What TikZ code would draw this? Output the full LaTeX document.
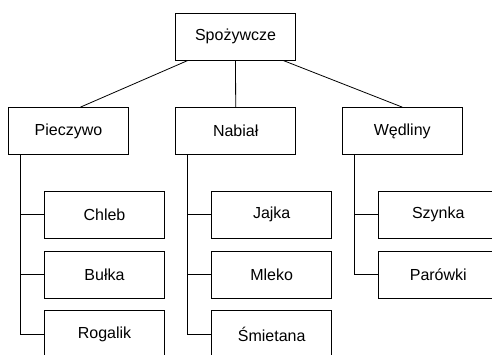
\documentclass[tikz,border=0pt]{standalone}
\usepackage{fontspec}
\setmainfont{Liberation Sans}
\begin{document}
\begin{tikzpicture}[x=1pt,y=-1pt,
    box/.style={draw,line width=0.8pt,minimum width=120pt,minimum height=47pt,
      inner sep=0pt,font=\fontsize{16}{19}\selectfont},
    link/.style={line width=0.8pt}]
      \clip (0,0) rectangle (492,354);
      \draw
        (235.5,36.5) node[box] (top){Spożywcze}
        (68.5,131) node[box] (piecz){Pieczywo}
        (235.7,131) node[box] (nabial){Nabiał}
        (402.2,131) node[box] (wedl){Wędliny}
        (104.5,214.5) node[box] (chleb){Chleb}
        (104.5,274.5) node[box] (bulka){Bułka}
        (104.5,334) node[box,minimum height=48pt] (rogalik){Rogalik}
        (271.7,214.5) node[box] (jajka){Jajka}
        (271.7,274.5) node[box] (mleko){Mleko}
        (271.7,334) node[box,minimum height=48pt] (smiet){Śmietana}
        (438.3,214.5) node[box] (szynka){Szynka}
        (438.3,274.5) node[box] (parowki){Parówki};
      \begin{scope}[link]
        \draw ([xshift=-47.5pt]top.south) to ([xshift=12pt]piecz.north);
        \draw (top.south) to (nabial.north);
        \draw ([xshift=47.5pt]top.south) to (wedl.north);
        \draw ([xshift=12pt]piecz.south west) |- (chleb.west);
        \draw ([xshift=12pt]piecz.south west) |- (bulka.west);
        \draw ([xshift=12pt]piecz.south west) |- (rogalik.west);
        \draw ([xshift=12.5pt]nabial.south west) |- (jajka.west);
        \draw ([xshift=12.5pt]nabial.south west) |- (mleko.west);
        \draw ([xshift=12.5pt]nabial.south west) |- (smiet.west);
        \draw ([xshift=12.5pt]wedl.south west) |- (szynka.west);
        \draw ([xshift=12.5pt]wedl.south west) |- (parowki.west);
      \end{scope}
    \end{tikzpicture}
\end{document}
